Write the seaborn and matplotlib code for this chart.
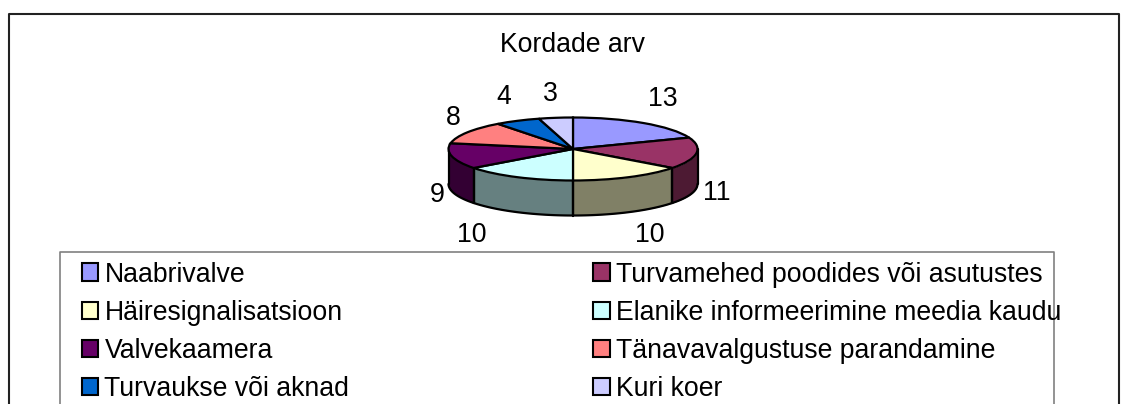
import numpy as np
import matplotlib
matplotlib.use("Agg")
import matplotlib.pyplot as plt
import seaborn as sns
from matplotlib.patches import Patch

categorias = ["Naabrivalve", "Turvamehed poodides või asutustes", "Häiresignalisatsioon",
              "Elanike informeerimine meedia kaudu", "Valvekaamera",
              "Tänavavalgustuse parandamine", "Turvaukse või aknad", "Kuri koer"]
valores = [13, 11, 10, 10, 9, 8, 4, 3]
colores = ["#9999FF", "#993366", "#FFFFCC", "#CCFFFF", "#660066", "#FF8080", "#0066CC", "#CCCCFF"]
titulo = "Kordade arv"

# Posiciones de las etiquetas en pixeles de la imagen
pos_etiquetas = [(663, 99), (717, 193), (650, 235), (472, 235), (437, 195), (453, 118), (504, 97), (550, 94)]

W, H = 1126, 404
CX, CY, RX, RY, FONDO = 573, 149, 124.5, 31.5, 35
LETRA = 19.2

sns.set_theme(style="white")
plt.rcParams['font.family'] = ['Liberation Sans', 'DejaVu Sans']
paleta = sns.color_palette(colores)

fig = plt.figure(figsize=(W / 100, H / 100), dpi=100)
ax = fig.add_axes([(CX - RX) / W, 1 - (CY + RY) / H, 2 * RX / W, 2 * RY / H])

# Pie normal, luego se aplasta quitando el aspecto igual
wedges, _ = ax.pie(valores, colors=paleta, startangle=90, counterclock=False, radius=1,
                   wedgeprops={'edgecolor': 'black', 'linewidth': 1.6})
ax.set_aspect('auto')
ax.set_xlim(-1, 1)
ax.set_ylim(-1, 1)
for w in wedges:
    w.set_zorder(3)

# Pared lateral: solo la mitad inferior de cada porcion
prof = FONDO / RY
acum = 90 - np.cumsum([0] + valores) / sum(valores) * 360
for i, color in enumerate(paleta):
    a1, a2 = max(acum[i + 1], -180), min(acum[i], 0)
    if a1 >= a2:
        continue
    t = np.radians(np.linspace(a1, a2, 60))
    x, y = np.cos(t), np.sin(t)
    oscuro = tuple(c * 0.5 for c in color)
    ax.fill_between(x, y, y - prof, color=oscuro, zorder=1, clip_on=False, lw=0)
    ax.plot(x, y - prof, color='black', lw=1.6, zorder=2, clip_on=False)
    ax.plot([x[0], x[0]], [y[0], y[0] - prof], color='black', lw=1.6, zorder=2, clip_on=False)
    ax.plot([x[-1], x[-1]], [y[-1], y[-1] - prof], color='black', lw=1.6, zorder=2, clip_on=False)

# Marcos
def linea(xs, ys, color, lw):
    fig.add_artist(plt.Line2D(np.array(xs) / W, 1 - np.array(ys) / H, color=color, lw=lw))

linea([8.5, 8.5, 1118.5, 1118.5], [404, 13.5, 13.5, 404], '#222222', 1.5)
linea([59.5, 59.5, 1053.5, 1053.5], [404, 251.5, 251.5, 404], '#808080', 1.2)

fig.text(573 / W, 1 - 45 / H, titulo, ha='center', va='center', fontsize=LETRA, color='black')
for valor, (px, py) in zip(valores, pos_etiquetas):
    fig.text(px / W, 1 - py / H, str(valor), ha='center', va='center', fontsize=LETRA, color='black')

# Leyenda en dos columnas, se llena por columna
orden = [0, 2, 4, 6, 1, 3, 5, 7]
handles = [Patch(facecolor=paleta[i], edgecolor='black', linewidth=1.5, label=categorias[i]) for i in orden]
fig.legend(handles=handles, ncol=2, frameon=False, fontsize=LETRA, loc='upper left', labelcolor='black',
           bbox_to_anchor=(81.5 / W, 1 - 261.5 / H), labelspacing=0.455, handlelength=0.62,
           handleheight=0.62, handletextpad=0.24, columnspacing=9.14, borderpad=0, borderaxespad=0)

fig.savefig("out.png", dpi=100, facecolor='white')
